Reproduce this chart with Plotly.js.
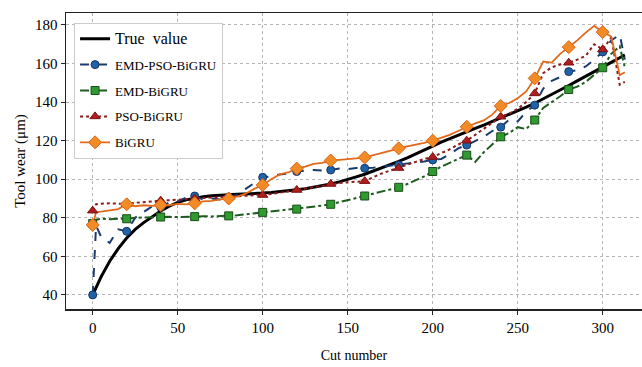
<!DOCTYPE html>
<html>
<head>
<meta charset="utf-8">
<script src="https://cdn.plot.ly/plotly-3.0.1.min.js"></script>
<style>html,body{margin:0;padding:0;background:#fff;}#chart{width:642px;height:367px;}</style>
</head>
<body>
<div id="chart"></div>
<script>
// ---- data ----
const cuts = [0,2,5,10,15,20,25,30,35,40,45,50,55,60,65,70,75,80,85,90,95,100,105,110,115,120,125,130,135,140,145,150,155,160,165,170,175,180,185,190,195,200,205,210,215,220,225,230,235,240,245,250,255,260,265,270,275,280,285,290,295,300,305,310,313];

const trueValue = [40,44,49.5,57.5,64,69.5,74,77.5,80.5,83.5,86,88,89.3,90.2,90.9,91.4,91.8,92,92.2,92.3,92.5,92.8,93.1,93.5,94,94.5,95.1,95.8,96.6,97.5,98.6,99.8,101.2,102.6,104.2,105.8,107.5,109.2,111.1,113,115.1,117.2,119.2,121.1,123,124.8,126.4,128.1,129.9,131.7,133.6,135.5,137.4,139.4,141.6,143.9,146.2,148.6,151,153.5,156,158.3,160.6,163,164.5];

const emdPsoBigru = [40,76,70,67,74,73,80,83,86,85.5,88,88.5,90.5,91.3,89.5,90,89.5,90.5,92,95,98,101,101.5,102.5,103,104,104.5,104.8,104.5,104.8,105.5,105.2,105.8,105.7,106,106.5,107,107.4,108,108.5,109.2,110,110.5,113,116,117.7,120,122,125,127,131,130,135,138.4,147,151,153,155.8,156.5,158.5,162,166,172,175,162];

const emdBigru = [77,79,79.5,79.3,79.5,79.5,80,80.2,80.3,80.4,80.5,80.4,80.6,80.6,80.8,80.7,80.9,81,81.3,81.8,82.3,82.8,83.2,83.6,84,84.5,85.3,85.6,86.3,87,88,89,90.2,91.3,92.5,93.5,94.6,95.8,97.5,99.5,101.5,104,106.5,108.5,110.5,112.5,109,114,118,122,124,127,126,130.7,137,140,143,146.5,148,150.5,154,157.8,165,169,158];

const psoBigru = [83.7,87,87.3,87.5,87.3,87.2,87.8,88.3,88.5,88.9,89,89.3,89.6,90,90.3,90.5,90.7,91,91.2,91.4,91.6,91.8,92.3,93,93.7,94.4,95.2,96,96.8,97.5,98,98.4,98.8,99,101,103,104.5,105.8,107.5,109,110.5,111.5,113.5,115.5,118,120,123,126,129,132.4,134,136.5,140,144.5,155,158,159.5,160.4,162,164,170,167.3,173.5,149,150.5];

const bigru = [76.3,83,83.2,83.8,84.5,87,86,86.5,86.2,86.6,86.5,87.2,87,87.5,88.5,88.8,89.5,90,91,92.5,95,97,100,102.5,103.5,105.5,106.5,108,108.5,109.7,110,110.5,110.8,111.3,112.5,113.5,114.8,116,117,118,118.8,120,121.5,123,125,127.2,129,130.5,133.5,138,139.5,142,145.5,152.3,161,160.5,165,168.5,172,176,179.5,176.3,174,154,155.5];

const seriesNames = ['True  value','EMD-PSO-BiGRU','EMD-BiGRU','PSO-BiGRU','BiGRU'];
const xTicks = [0,50,100,150,200,250,300];
const yTicks = [40,60,80,100,120,140,160,180];
const markerEvery = 20;

// ---- styles ----
const FONT = 'Liberation Serif, Times New Roman, serif';
const styles = [
  {line:{color:'#000000', width:3, dash:'solid'}, marker:null},
  {line:{color:'#1b3b70', width:2, dash:'dash'}, marker:{symbol:'circle', size:8, color:'#1f62a6', line:{color:'#163763', width:1}}},
  {line:{color:'#1f5c1f', width:2, dash:'dashdot'}, marker:{symbol:'square', size:8, color:'#2f9a2f', line:{color:'#1a4d1a', width:1}}},
  {line:{color:'#8e1b1b', width:2, dash:'dot'}, marker:{symbol:'triangle-up', size:9, color:'#b01d1d', line:{color:'#7a1212', width:1}}},
  {line:{color:'#e2691c', width:1.8, dash:'solid'}, marker:{symbol:'diamond', size:10, color:'#f28a26', line:{color:'#d9661a', width:1}}}
];
const allY = [trueValue, emdPsoBigru, emdBigru, psoBigru, bigru];

const traces = [];
// legend-only entries
seriesNames.forEach((name, i) => {
  const st = styles[i];
  const t = {
    type:'scatter', x:[null], y:[null], name: i === 0 ? '<span style="font-size:16px">' + name + '</span>' : name,
    legendgroup:'g'+i, showlegend:true, hoverinfo:'skip',
    mode: st.marker ? 'lines+markers' : 'lines', line: st.line
  };
  if (st.marker) t.marker = st.marker;
  traces.push(t);
});
// lines
seriesNames.forEach((name, i) => {
  traces.push({type:'scatter', x:cuts, y:allY[i], mode:'lines', line:styles[i].line,
    legendgroup:'g'+i, showlegend:false, name:name});
});
// markers every 20 cuts
seriesNames.forEach((name, i) => {
  if (!styles[i].marker) return;
  const mx = [], my = [];
  cuts.forEach((c, k) => { if (c % markerEvery === 0) { mx.push(c); my.push(allY[i][k]); } });
  traces.push({type:'scatter', x:mx, y:my, mode:'markers', marker:styles[i].marker,
    legendgroup:'g'+i, showlegend:false, name:name});
});

const layout = {
  width:642, height:367,
  margin:{l:66, r:0, t:13, b:58},
  paper_bgcolor:'#ffffff', plot_bgcolor:'#ffffff',
  font:{family:FONT, color:'#000'},
  showlegend:true,
  legend:{x:0.014, y:0.967, xanchor:'left', yanchor:'top', bgcolor:'#ffffff',
    bordercolor:'#cccccc', borderwidth:1, font:{family:FONT, size:13, color:'#000'},
    traceorder:'grouped', tracegroupgap:6},
  xaxis:{range:[-15.7, 323.1], tickvals:xTicks, ticktext:xTicks.map(String),
    showgrid:true, gridcolor:'#b5b5b5', griddash:'dot', gridwidth:1, zeroline:false,
    showline:true, linecolor:'#222', linewidth:1.5, mirror:true,
    ticks:'outside', ticklen:4, tickcolor:'#222', tickfont:{family:FONT, size:15, color:'#000'},
    title:{text:'Cut number', font:{family:FONT, size:14, color:'#000'}, standoff:15}},
  yaxis:{range:[32.7, 186.2], tickvals:yTicks, ticktext:yTicks.map(String),
    showgrid:true, gridcolor:'#b5b5b5', griddash:'dot', gridwidth:1, zeroline:false,
    showline:true, linecolor:'#222', linewidth:1.5, mirror:false,
    ticks:'outside', ticklen:4, tickcolor:'#222', tickfont:{family:FONT, size:15, color:'#000'},
    title:{text:'Tool wear (μm)', font:{family:FONT, size:15, color:'#000'}, standoff:6}}
};

Plotly.newPlot('chart', traces, layout, {displayModeBar:false, staticPlot:true});
</script>
</body>
</html>
